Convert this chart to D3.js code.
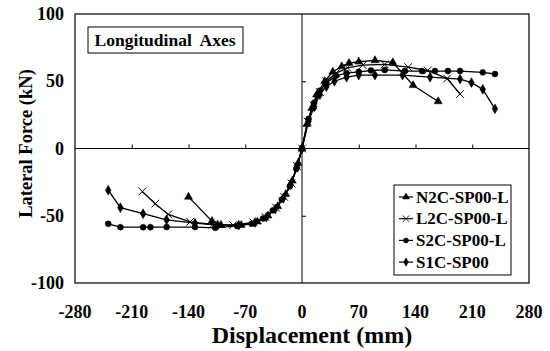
<!DOCTYPE html>
<html lang="en">
<head>
  <title>Lateral Force vs Displacement</title>
  <script type="text/javascript" src="https://cdn.jsdelivr.net/npm/d3@7"></script>
  <style>
    body { margin: 0; background: #fff; }
    svg text { font-family: 'Liberation Serif', 'Times New Roman', serif; font-weight: bold; fill: #000; }
    .curve { fill: none; stroke: #000; stroke-width: 1.3; }
  </style>
</head>
<body>
  <div id="chart"></div>
  <script type="text/javascript">

    var w = 550,
        h = 351;

    // tick labels
    var xTicks = [-280, -210, -140, -70, 0, 70, 140, 210, 280];
    var yTicks = [-100, -50, 0, 50, 100];

    // series names
    var names = ["N2C-SP00-L", "L2C-SP00-L", "S2C-SP00-L", "S1C-SP00"];

    // [displacement mm, force kN]
    var n2c = [[-140, -36], [-111, -54], [-100, -57], [-75, -57], [-55, -54.5], [-42, -50], [-30, -43], [-20, -34],
               [-12, -24], [-5, -11], [0, 0], [6, 18], [12, 30], [18, 40], [28, 50], [38, 57], [49, 61],
               [58, 63.5], [70, 64.5], [90, 65.5], [112, 64], [137, 47], [168, 35]];
    var l2c = [[-197, -32], [-181, -41], [-165, -49], [-138, -54.5], [-110, -56.5], [-85, -57], [-60, -55],
               [-45, -51], [-32, -44], [-22, -36], [-13, -26], [-6, -13], [0, 0], [7, 20], [14, 32], [22, 42],
               [30, 50], [42, 56], [56, 60], [75, 62], [102, 62.5], [131, 60.5], [155, 58], [179, 52], [195, 40.5]];
    var s2c = [[-239, -56], [-224, -58.5], [-196, -58.5], [-187, -58.5], [-167, -58.4], [-132, -58.4], [-107, -59],
               [-80, -57.6], [-62, -56], [-48, -52], [-36, -46], [-25, -38], [-15, -28], [-7, -15], [0, 0],
               [8, 22], [15, 34], [22, 43], [30, 49], [42, 54], [55, 56], [70, 57], [85, 58], [102, 58.4],
               [127, 57.6], [148, 57.6], [164, 57.6], [180, 57.6], [195, 57.6], [223, 56.6], [238, 55.4]];
    var s1c = [[-239, -31], [-224, -44], [-196, -48.5], [-167, -53], [-132, -55.5], [-104, -57], [-78, -57],
               [-58, -55], [-44, -51], [-33, -45], [-23, -37], [-14, -27], [-6, -14], [0, 0], [8, 20],
               [15, 31], [22, 40], [30, 46], [40, 50], [55, 53], [70, 54.6], [90, 54.6], [124, 54.6],
               [158, 53], [195, 51.6], [209, 49], [223, 44], [238, 29.5]];

    var series = [n2c, l2c, s2c, s1c];
    var symbols = [d3.symbolTriangle, d3.symbolX, d3.symbolCircle, d3.symbolDiamond];

    var margin = {left: 75, right: 21, top: 14, bottom: 68};

    var x = d3.scaleLinear().domain([-280, 280]).range([margin.left, w - margin.right]);
    var y = d3.scaleLinear().domain([-100, 100]).range([h - margin.bottom, margin.top]);

    var svg = d3.select("#chart")
      .append("svg")
      .attr("width", w)
      .attr("height", h);

    // plot frame
    svg.append("rect")
      .attr("x", x(-280))
      .attr("y", y(100))
      .attr("width", x(280) - x(-280))
      .attr("height", y(-100) - y(100))
      .attr("fill", "none")
      .attr("stroke", "#000")
      .attr("stroke-width", 1.2);

    // zero lines with their small ticks
    svg.append("g")
      .attr("transform", "translate(0," + y(0) + ")")
      .call(d3.axisTop(x).tickValues(xTicks.slice(1, -1)).tickSize(4).tickFormat(""))
      .call(function(g) { g.select(".domain").attr("d", "M" + x(-280) + ",0H" + x(280)); });

    svg.append("g")
      .attr("transform", "translate(" + x(0) + ",0)")
      .call(d3.axisRight(y).tickValues([-50, 50]).tickSize(4).tickFormat(""))
      .call(function(g) { g.select(".domain").attr("d", "M0," + y(100) + "V" + y(-100)); });

    svg.selectAll(".domain, .tick line").attr("stroke", "#000").attr("stroke-width", 1);

    // tick labels
    svg.selectAll(".xlab")
      .data(xTicks)
      .enter()
      .append("text")
      .attr("class", "xlab")
      .attr("x", function(d) { return x(d); })
      .attr("y", 318)
      .attr("text-anchor", "middle")
      .attr("font-size", "18px")
      .text(function(d) { return d; });

    svg.selectAll(".ylab")
      .data(yTicks)
      .enter()
      .append("text")
      .attr("class", "ylab")
      .attr("x", 64)
      .attr("y", function(d) { return y(d) + 6; })
      .attr("text-anchor", "end")
      .attr("font-size", "18px")
      .text(function(d) { return d; });

    // axis titles
    svg.append("text")
      .attr("x", 312)
      .attr("y", 343)
      .attr("text-anchor", "middle")
      .attr("font-size", "24px")
      .text("Displacement (mm)");

    svg.append("text")
      .attr("transform", "translate(32,143.5) rotate(-90)")
      .attr("text-anchor", "middle")
      .attr("font-size", "18.5px")
      .text("Lateral Force (kN)");

    // curves
    var line = d3.line()
      .x(function(d) { return x(d[0]); })
      .y(function(d) { return y(d[1]); });

    series.forEach(function(data, i) {
      svg.append("path")
        .datum(data)
        .attr("class", "curve")
        .attr("d", line);

      svg.selectAll(".m" + i)
        .data(data)
        .enter()
        .append("path")
        .attr("class", "m" + i)
        .attr("transform", function(d) { return "translate(" + x(d[0]) + "," + y(d[1]) + ")"; })
        .attr("d", d3.symbol().type(symbols[i]).size(i == 1 ? 40 : 28))
        .attr("fill", i == 1 ? "none" : "#000")
        .attr("stroke", "#000")
        .attr("stroke-width", i == 1 ? 1 : 0.5);
    });

    // title box
    svg.append("rect")
      .attr("x", 88)
      .attr("y", 27)
      .attr("width", 155)
      .attr("height", 26)
      .attr("fill", "#fff")
      .attr("stroke", "#000")
      .attr("stroke-width", 1);

    svg.append("text")
      .attr("x", 165)
      .attr("y", 46)
      .attr("text-anchor", "middle")
      .attr("font-size", "17.5px")
      .attr("xml:space", "preserve")
      .style("white-space", "pre")
      .text("Longitudinal  Axes");

    // legend
    var legend = svg.append("g");

    legend.append("rect")
      .attr("x", 394)
      .attr("y", 185)
      .attr("width", 117)
      .attr("height", 90)
      .attr("fill", "#fff")
      .attr("stroke", "#000")
      .attr("stroke-width", 1);

    names.forEach(function(name, i) {
      var ly = 197 + i * 21.7;
      legend.append("line")
        .attr("x1", 399).attr("x2", 413)
        .attr("y1", ly).attr("y2", ly)
        .attr("stroke", "#000")
        .attr("stroke-width", 1.2);
      legend.append("path")
        .attr("transform", "translate(406," + ly + ")")
        .attr("d", d3.symbol().type(symbols[i]).size(i == 1 ? 30 : 20))
        .attr("fill", i == 1 ? "none" : "#000")
        .attr("stroke", "#000")
        .attr("stroke-width", i == 1 ? 0.8 : 0.5);
      legend.append("text")
        .attr("x", 416)
        .attr("y", ly + 5.5)
        .attr("font-size", "17px")
        .text(name);
    });
  </script>
</body>
</html>
